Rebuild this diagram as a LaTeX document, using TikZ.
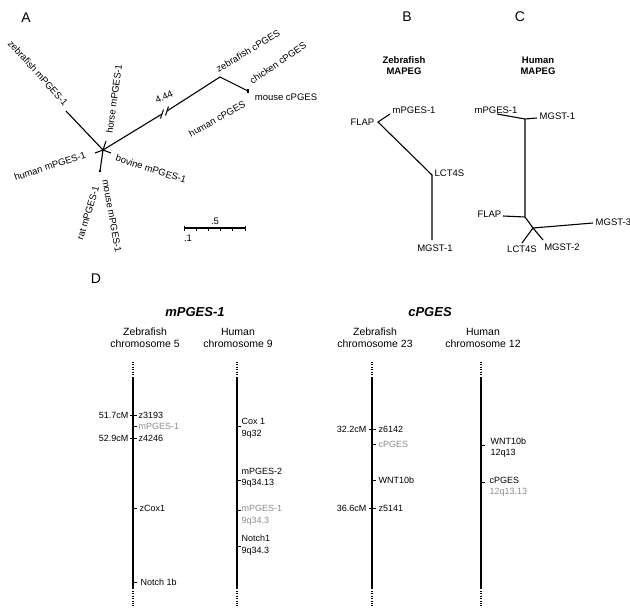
\documentclass[tikz,border=0pt]{standalone}
\usepackage{fontspec}
\setmainfont{Liberation Sans}
\usetikzlibrary{calc}
\begin{document}
\begin{tikzpicture}[x=1pt,y=-1pt,
  lab/.style={font=\fontsize{9.5}{11}\selectfont, inner sep=0.5pt},
  blab/.style={font=\fontsize{9.5}{11}\selectfont, inner sep=0.5pt},
  mlab/.style={font=\fontsize{9}{11.5}\selectfont, inner sep=0.5pt, align=left},
  head/.style={font=\fontsize{10.5}{12}\selectfont, align=center},
  panel/.style={font=\fontsize{14}{16}\selectfont},
  branch/.style={line width=1.1pt},
  chrom/.style={line width=2.2pt},
  chromdots/.style={line width=2pt, dash pattern=on 1pt off 1.4pt},
  ticmark/.style={line width=0.8pt},
  hi/.style={text=black!45}]
\useasboundingbox (0,0) rectangle (630,608);

% panel letters
\node[panel] (pA) at (26,18) {A};
\node[panel] (pB) at (407,17) {B};
\node[panel] (pC) at (520,17) {C};
\node[panel] (pD) at (96,279) {D};

% A: unrooted tree
\coordinate (a0) at (103,150);
\coordinate (aZf) at (66,111);
\coordinate (aHo) at (106,141);
\coordinate (aHu) at (95,153);
\coordinate (aBo) at (111,153);
\coordinate (aRm) at (100,171);
\coordinate (aB1) at (162,114);
\coordinate (aB2) at (167,111);
\coordinate (aC) at (220,77);
\coordinate (aMc) at (248,91);
\draw[branch] (a0) -- (aZf) (a0) -- (aHo) (a0) -- (aHu) (a0) -- (aBo) (a0) -- (aRm);
\draw[branch] (a0) -- (aB1) (aB2) -- (aC) -- (aMc);
\draw[branch] ([shift={(-1.5,4.5)}]aB1) -- ([shift={(1.5,-4.5)}]aB1);
\draw[branch] ([shift={(-1.5,4.5)}]aB2) -- ([shift={(1.5,-4.5)}]aB2);
\draw[branch] ([yshift=-2]aMc) -- ([yshift=2.5]aMc);
\fill (aRm) circle (1.3);
\node[lab, rotate=25] (l444) at (164,97) {4.44};

\node[lab, rotate=-48] (lZf) at (38,73) {zebrafish mPGES-1};
\node[lab, rotate=82] (lHo) at (114,99) {horse mPGES-1};
\node[lab, rotate=18] (lHu) at (50,166) {human mPGES-1};
\node[lab, rotate=-18] (lBo) at (151,169) {bovine mPGES-1};
\node[lab, rotate=73] (lRa) at (88,213) {rat mPGES-1};
\node[lab, rotate=-80] (lMo) at (112,216) {mouse mPGES-1};
\node[lab, rotate=29] (lHc) at (217,119) {human cPGES};
\node[lab, rotate=31] (lZc) at (248,51) {zebrafish cPGES};
\node[lab, rotate=34] (lCc) at (278,63) {chicken cPGES};
\node[lab] (lMc) at (286,97) {mouse cPGES};

% scale bar
\coordinate (s0) at (184,228);
\coordinate (s1) at (245,228);
\draw[branch] (s0) -- (s1);
\foreach \i in {0,...,5}
  \draw[ticmark] ($(s0)!\i/5!(s1)$) -- ++(0,2.5);
\draw[ticmark] (s0) -- ++(0,-2.5) (s1) -- ++(0,-2.5);
\node[lab] (sFive) at (215,221) {.5};
\node[lab] (sOne) at (188,238) {.1};

% B: zebrafish MAPEG
\node[head, font=\fontsize{9.5}{11}\selectfont\bfseries] (tB) at (404,66) {Zebrafish\\MAPEG};
\coordinate (bM) at (390,114);
\coordinate (bF) at (378,122);
\coordinate (bL) at (432,175);
\coordinate (bG) at (432,240);
\draw[branch] (bM) -- (bF) -- (bL) -- (bG);
\node[blab, anchor=west] (lbM) at (392,110) {mPGES-1};
\node[blab, anchor=east] (lbF) at (375,122) {FLAP};
\node[blab, anchor=west] (lbL) at (434,173) {LCT4S};
\node[blab] (lbG) at (435,248) {MGST-1};

% C: human MAPEG
\node[head, font=\fontsize{9.5}{11}\selectfont\bfseries] (tC) at (538,66) {Human\\MAPEG};
\coordinate (cM) at (497,114);
\coordinate (cT) at (525,119);
\coordinate (cG) at (537,118);
\coordinate (cF0) at (525,217);
\coordinate (cF) at (503,216);
\coordinate (cJ) at (533,228);
\coordinate (cL) at (522,243);
\coordinate (c2) at (543,240);
\coordinate (c3) at (593,223);
\draw[branch] (cM) -- (cT) -- (cG) (cT) -- (cF0) -- (cF) (cF0) -- (cJ) -- (cL) (cJ) -- (c2) (cJ) -- (c3);
\node[blab] (lcM) at (496,110) {mPGES-1};
\node[blab, anchor=west] (lcG) at (539,116) {MGST-1};
\node[blab, anchor=east] (lcF) at (502,214) {FLAP};
\node[blab, anchor=west] (lc3) at (595,222) {MGST-3};
\node[blab] (lcL) at (522,249) {LCT4S};
\node[blab] (lc2) at (562,247) {MGST-2};

% D: chromosome maps
\node[font=\fontsize{13}{15}\selectfont\bfseries\itshape] (tm) at (195,312) {mPGES-1};
\node[font=\fontsize{13}{15}\selectfont\bfseries\itshape] (tc) at (430,312) {cPGES};
\node[head] (h5) at (145,338) {Zebrafish\\chromosome 5};
\node[head] (h9) at (238,338) {Human\\chromosome 9};
\node[head] (h23) at (375,338) {Zebrafish\\chromosome 23};
\node[head] (h12) at (483,338) {Human\\chromosome 12};

\foreach \cx/\nm in {133/z5, 237/h9, 372/z23, 481/h12} {
  \coordinate (\nm top) at (\cx,377);
  \coordinate (\nm bot) at (\cx,589);
  \draw[chromdots] (\cx,362) -- (\cx,376);
  \draw[chrom] (\nm top) -- (\nm bot);
  \draw[chromdots] (\cx,591) -- (\cx,606);
}

% zebrafish chromosome 5
\draw[ticmark] (130,415) -- (137,415) (133,426) -- (137,426) (130,438) -- (137,438)
  (133,508) -- (137,508) (133,582) -- (137,582);
\node[mlab, anchor=west] (z3193) at (138,415) {z3193};
\node[mlab, anchor=west, hi] (zmp) at (138,426) {mPGES-1};
\node[mlab, anchor=west] (z4246) at (138,438) {z4246};
\node[mlab, anchor=west] (zcox) at (139,508) {zCox1};
\node[mlab, anchor=west] (znot) at (140,582) {Notch 1b};
\node[mlab, anchor=east] (cm517) at (129,415) {51.7cM};
\node[mlab, anchor=east] (cm529) at (129,438) {52.9cM};

% human chromosome 9
\draw[ticmark] (237,426) -- (241,426) (237,480) -- (241,480) (237,510) -- (241,510) (237,546) -- (241,546);
\node[mlab, anchor=west] (hcox) at (241,428.5) {Cox 1\\9q32};
\node[mlab, anchor=west] (hmp2) at (241,478) {mPGES-2\\9q34.13};
\node[mlab, anchor=west, hi] (hmp1) at (241,515.5) {mPGES-1\\9q34.3};
\node[mlab, anchor=west] (hnot) at (241,545) {Notch1\\9q34.3};

% zebrafish chromosome 23
\draw[ticmark] (369,429) -- (376,429) (372,444) -- (376,444) (372,480) -- (376,480) (369,508) -- (376,508);
\node[mlab, anchor=west] (z6142) at (378,429) {z6142};
\node[mlab, anchor=west, hi] (zcp) at (378,444) {cPGES};
\node[mlab, anchor=west] (zwnt) at (378,480) {WNT10b};
\node[mlab, anchor=west] (z5141) at (378,508) {z5141};
\node[mlab, anchor=east] (cm322) at (367,429) {32.2cM};
\node[mlab, anchor=east] (cm366) at (367,508) {36.6cM};

% human chromosome 12
\draw[ticmark] (481,445) -- (485,445) (481,482) -- (485,482);
\node[mlab, anchor=west] (hwnt) at (490,447.5) {WNT10b\\12q13};
\node[mlab, anchor=west] (hcp) at (489,487) {cPGES\\\textcolor{black!45}{12q13.13}};
\end{tikzpicture}
\end{document}
